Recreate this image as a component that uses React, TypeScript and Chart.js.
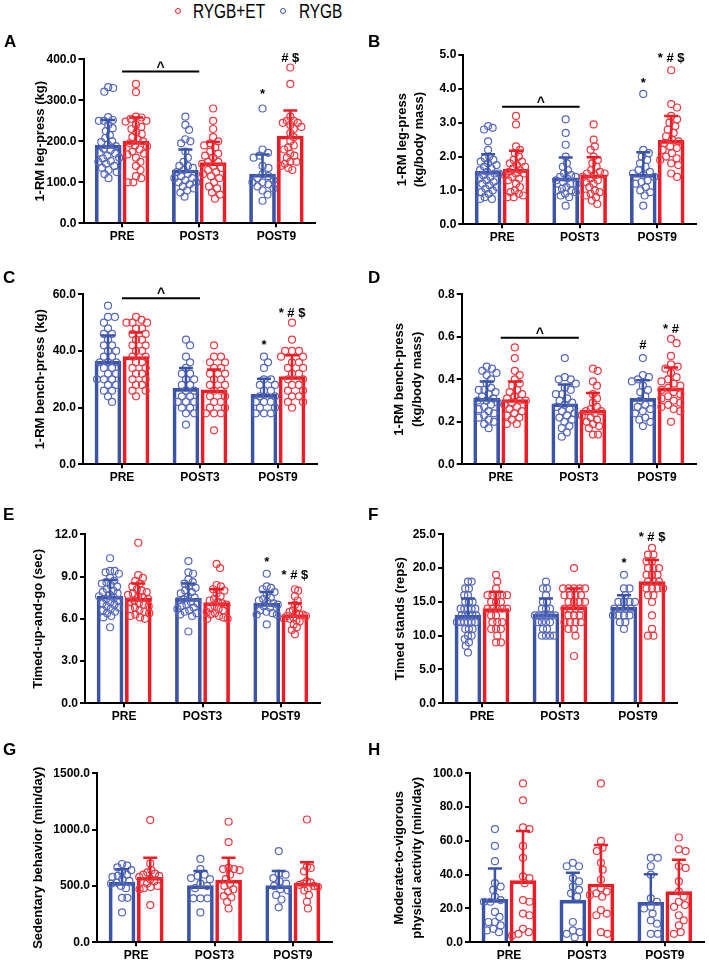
import React, { useEffect, useRef } from 'react';
import { Chart, registerables } from 'chart.js';

Chart.register(...registerables);

const FONT = "'Liberation Sans', Arial, Helvetica, sans-serif";
const BLUE = '#3B54A6';
const RED = '#EE1C25';
const BLUE_PT = '#5668BC';
const RED_PT = '#F03840';

const CATEGORIES = ['PRE', 'POST3', 'POST9'];
const SERIES_NAMES = ['RYGB', 'RYGB+ET'];

// ---------- Panel A ----------
const A_TITLE = '1-RM leg-press (kg)';
const A_Y_TICKS = [0, 100, 200, 300, 400];
const A_RYGB_MEAN = [190, 130, 120];
const A_RYGB_SD = [62, 50, 48];
const A_ET_MEAN = [200, 148, 213];
const A_ET_SD = [58, 50, 62];
const A_RYGB_PTS = [
  [332, 330, 321, 259, 252, 250, 250, 240, 232, 225, 215, 208, 200, 198, 192, 188, 182, 178, 172, 170, 165, 160, 158, 152, 150, 145, 140, 135, 130, 125, 120, 110],
  [260, 240, 228, 205, 200, 195, 175, 160, 150, 140, 140, 135, 130, 125, 120, 115, 110, 110, 105, 100, 100, 95, 90, 85, 80, 75, 65],
  [280, 180, 172, 165, 160, 140, 135, 120, 115, 110, 105, 100, 100, 95, 90, 85, 80, 70, 55],
];
const A_ET_PTS = [
  [340, 320, 260, 258, 255, 250, 248, 240, 235, 230, 222, 218, 210, 205, 200, 195, 190, 188, 180, 175, 170, 168, 160, 150, 140, 130, 115, 110, 100, 100],
  [280, 250, 230, 210, 200, 195, 190, 185, 175, 170, 165, 160, 150, 150, 145, 140, 135, 130, 125, 120, 115, 110, 100, 90, 85, 75, 70, 60],
  [380, 340, 260, 250, 250, 245, 245, 240, 235, 230, 220, 210, 200, 190, 185, 180, 170, 165, 160, 150, 150, 145, 140, 135, 130],
];
const A_MARKS = [
  { cat: 2, series: 0, value: 315, text: '*' },
  { cat: 2, series: 1, value: 402, text: '# $' },
];
const A_BRACKET = { from: 0, to: 1, value: 370 };

// ---------- Panel B ----------
const B_TITLE = ['1-RM leg-press', '(kg/body mass)'];
const B_Y_TICKS = [0, 1, 2, 3, 4, 5];
const B_RYGB_MEAN = [1.57, 1.37, 1.48];
const B_RYGB_SD = [0.5, 0.6, 0.65];
const B_ET_MEAN = [1.62, 1.46, 2.48];
const B_ET_SD = [0.55, 0.52, 0.72];
const B_RYGB_PTS = [
  [2.9, 2.85, 2.8, 2.45, 2.2, 2.0, 1.95, 1.9, 1.85, 1.8, 1.75, 1.7, 1.65, 1.6, 1.55, 1.5, 1.5, 1.45, 1.4, 1.35, 1.3, 1.25, 1.2, 1.15, 1.1, 1.05, 1.0, 0.95, 0.9, 0.8, 0.75, 0.75],
  [3.1, 2.7, 2.35, 2.0, 1.8, 1.7, 1.6, 1.5, 1.45, 1.4, 1.4, 1.35, 1.3, 1.25, 1.2, 1.2, 1.1, 1.05, 1.0, 1.0, 0.95, 0.9, 0.85, 0.8, 0.55],
  [3.85, 2.2, 2.1, 2.0, 1.9, 1.8, 1.7, 1.6, 1.55, 1.5, 1.45, 1.4, 1.3, 1.25, 1.2, 1.1, 1.0, 0.95, 0.85, 0.55],
];
const B_ET_PTS = [
  [3.2, 2.95, 2.3, 2.2, 2.1, 2.0, 1.9, 1.85, 1.8, 1.75, 1.7, 1.65, 1.6, 1.55, 1.5, 1.5, 1.45, 1.4, 1.35, 1.3, 1.2, 1.1, 1.0, 0.95, 0.9, 0.85, 0.8, 0.8],
  [2.95, 2.5, 2.3, 2.2, 2.0, 1.9, 1.8, 1.7, 1.6, 1.55, 1.5, 1.5, 1.45, 1.4, 1.35, 1.3, 1.25, 1.2, 1.1, 1.0, 0.95, 0.9, 0.85, 0.8, 0.7, 0.6],
  [4.55, 3.55, 3.45, 3.2, 3.1, 3.0, 2.9, 2.8, 2.7, 2.6, 2.5, 2.45, 2.4, 2.3, 2.25, 2.2, 2.1, 2.0, 1.95, 1.9, 1.8, 1.75, 1.5, 1.4],
];
const B_MARKS = [
  { cat: 2, series: 0, value: 4.16, text: '*' },
  { cat: 2, series: 1, value: 4.9, text: '* # $' },
];
const B_BRACKET = { from: 0, to: 1, value: 3.47 };

// ---------- Panel C ----------
const C_TITLE = '1-RM bench-press (kg)';
const C_Y_TICKS = [0, 20, 40, 60];
const C_RYGB_MEAN = [36.3, 26.8, 24.7];
const C_RYGB_SD = [9.2, 7.2, 5.5];
const C_ET_MEAN = [38.0, 26.3, 31.0];
const C_ET_SD = [8.5, 7.2, 7.5];
const C_RYGB_PTS = [
  [56, 52, 52, 50, 48, 46, 46, 44, 42, 42, 40, 40, 38, 38, 36, 36, 36, 34, 34, 32, 32, 30, 30, 30, 28, 28, 26, 26, 24, 22],
  [44, 42, 38, 36, 34, 32, 32, 30, 30, 28, 28, 26, 26, 24, 24, 22, 22, 22, 20, 20, 18, 18, 14],
  [38, 36, 34, 30, 30, 28, 28, 26, 26, 24, 24, 22, 22, 22, 20, 20, 18, 18, 18],
];
const C_ET_PTS = [
  [52, 51, 50, 50, 50, 48, 48, 46, 46, 44, 44, 42, 42, 40, 40, 38, 38, 36, 36, 34, 34, 32, 32, 30, 30, 28, 28, 26, 26, 24],
  [42, 38, 38, 36, 36, 34, 34, 32, 32, 30, 30, 28, 28, 26, 26, 24, 24, 22, 22, 20, 20, 18, 18, 18, 12],
  [50, 44, 40, 40, 40, 38, 38, 36, 36, 34, 34, 32, 32, 30, 30, 28, 28, 26, 26, 24, 24, 22, 22, 20],
];
const C_MARKS = [
  { cat: 2, series: 0, value: 41.9, text: '*' },
  { cat: 2, series: 1, value: 53.3, text: '* # $' },
];
const C_BRACKET = { from: 0, to: 1, value: 58.6 };

// ---------- Panel D ----------
const D_TITLE = ['1-RM bench-press', '(kg/body mass)'];
const D_Y_TICKS = [0, 0.2, 0.4, 0.6, 0.8];
const D_RYGB_MEAN = [0.31, 0.285, 0.31];
const D_RYGB_SD = [0.08, 0.09, 0.085];
const D_ET_MEAN = [0.305, 0.255, 0.36];
const D_ET_SD = [0.085, 0.08, 0.095];
const D_RYGB_PTS = [
  [0.46, 0.45, 0.44, 0.43, 0.42, 0.4, 0.38, 0.36, 0.35, 0.35, 0.34, 0.33, 0.32, 0.31, 0.3, 0.3, 0.29, 0.28, 0.27, 0.26, 0.25, 0.24, 0.23, 0.22, 0.21, 0.2, 0.19, 0.17],
  [0.5, 0.41, 0.4, 0.4, 0.38, 0.36, 0.35, 0.33, 0.33, 0.31, 0.3, 0.29, 0.28, 0.27, 0.26, 0.25, 0.24, 0.23, 0.22, 0.21, 0.2, 0.18, 0.17, 0.15, 0.13],
  [0.5, 0.42, 0.41, 0.4, 0.39, 0.37, 0.35, 0.34, 0.32, 0.3, 0.28, 0.27, 0.26, 0.25, 0.24, 0.22, 0.21, 0.2, 0.18],
];
const D_ET_PTS = [
  [0.55, 0.5, 0.44, 0.42, 0.4, 0.38, 0.37, 0.35, 0.34, 0.33, 0.32, 0.31, 0.3, 0.3, 0.29, 0.28, 0.27, 0.26, 0.25, 0.24, 0.23, 0.22, 0.21, 0.19, 0.19],
  [0.45, 0.44, 0.39, 0.37, 0.33, 0.31, 0.29, 0.27, 0.26, 0.25, 0.25, 0.24, 0.23, 0.22, 0.21, 0.2, 0.19, 0.18, 0.17, 0.14, 0.14],
  [0.59, 0.57, 0.51, 0.47, 0.46, 0.45, 0.43, 0.41, 0.4, 0.39, 0.38, 0.37, 0.36, 0.35, 0.34, 0.33, 0.32, 0.31, 0.3, 0.29, 0.28, 0.27, 0.26, 0.25, 0.2],
];
const D_MARKS = [
  { cat: 2, series: 0, value: 0.56, text: '#' },
  { cat: 2, series: 1, value: 0.637, text: '* #' },
];
const D_BRACKET = { from: 0, to: 1, value: 0.596 };

// ---------- Panel E ----------
const E_TITLE = 'Timed-up-and-go (sec)';
const E_Y_TICKS = [0, 3, 6, 9, 12];
const E_RYGB_MEAN = [7.6, 7.45, 7.1];
const E_RYGB_SD = [1.15, 1.05, 0.8];
const E_ET_MEAN = [7.45, 7.15, 6.3];
const E_ET_SD = [1.05, 0.95, 0.8];
const E_RYGB_PTS = [
  [10.3, 9.4, 9.4, 9.3, 9.2, 8.9, 8.7, 8.6, 8.5, 8.4, 8.3, 8.1, 8.0, 7.9, 7.8, 7.7, 7.6, 7.5, 7.4, 7.3, 7.2, 7.1, 7.0, 6.9, 6.8, 6.7, 6.6, 6.5, 6.4, 6.2, 6.1, 5.4],
  [10.1, 9.3, 9.2, 8.8, 8.6, 8.5, 8.3, 8.2, 8.0, 7.9, 7.8, 7.6, 7.5, 7.4, 7.3, 7.2, 7.1, 7.0, 6.9, 6.8, 6.7, 6.6, 6.5, 6.4, 6.3, 6.2, 5.1],
  [9.2, 8.3, 8.2, 8.1, 7.9, 7.7, 7.5, 7.4, 7.3, 7.2, 7.1, 7.0, 6.9, 6.8, 6.6, 6.5, 6.4, 6.3, 6.3, 5.6],
];
const E_ET_PTS = [
  [11.4, 9.1, 8.9, 8.7, 8.5, 8.3, 8.1, 8.0, 7.9, 7.8, 7.7, 7.6, 7.5, 7.4, 7.3, 7.2, 7.1, 7.0, 6.9, 6.8, 6.7, 6.6, 6.5, 6.4, 6.3, 6.2, 6.1, 6.0],
  [9.9, 9.6, 8.4, 8.3, 8.1, 8.0, 7.8, 7.6, 7.4, 7.3, 7.2, 7.1, 7.0, 6.9, 6.8, 6.7, 6.6, 6.5, 6.4, 6.3, 6.2, 6.1, 6.0, 6.0],
  [8.1, 8.0, 7.6, 7.3, 7.0, 6.8, 6.6, 6.5, 6.4, 6.3, 6.3, 6.2, 6.2, 6.1, 6.0, 6.0, 5.9, 5.8, 5.6, 5.4, 5.2, 4.9],
];
const E_MARKS = [
  { cat: 2, series: 0, value: 10.0, text: '*' },
  { cat: 2, series: 1, value: 9.07, text: '* # $' },
];

// ---------- Panel F ----------
const F_TITLE = 'Timed stands (reps)';
const F_Y_TICKS = [0, 5, 10, 15, 20, 25];
const F_RYGB_MEAN = [13.0, 13.2, 14.2];
const F_RYGB_SD = [2.5, 2.3, 1.8];
const F_ET_MEAN = [14.0, 14.3, 18.0];
const F_ET_SD = [2.5, 2.7, 3.2];
const F_RYGB_PTS = [
  [18, 18, 17, 17, 16, 16, 15, 15, 15, 14, 14, 14, 14, 14, 13, 13, 13, 13, 13, 12, 12, 12, 12, 12, 12, 11, 11, 11, 10, 10, 9.5, 9, 8.5, 7.5],
  [18, 17, 17, 16, 15, 15, 14, 14, 14, 13, 13, 13, 13, 13, 13, 12, 12, 12, 12, 11, 11, 10, 10, 10, 10],
  [19, 17, 17, 16, 15, 15, 15, 15, 14, 14, 14, 14, 13, 13, 13, 13, 12, 12, 11],
];
const F_ET_PTS = [
  [19, 18, 17, 16, 16, 16, 16, 16, 15, 15, 15, 14, 14, 14, 14, 14, 13, 13, 12, 12, 12, 11, 11, 11, 10, 9, 9],
  [20, 17, 17, 17, 17, 17, 16, 16, 16, 16, 15, 15, 15, 15, 14, 14, 14, 14, 13, 13, 13, 12, 12, 12, 12, 11, 11, 10, 7],
  [23, 22, 22, 21, 21, 20, 20, 20, 19, 19, 19, 18, 18, 18, 17, 17, 17, 17, 16, 16, 15, 13, 11, 10, 10],
];
const F_MARKS = [
  { cat: 2, series: 0, value: 20.7, text: '*' },
  { cat: 2, series: 1, value: 24.5, text: '* # $' },
];

// ---------- Panel G ----------
const G_TITLE = 'Sedentary behavior (min/day)';
const G_Y_TICKS = [0, 500, 1000, 1500];
const G_RYGB_MEAN = [532, 503, 503];
const G_RYGB_SD = [116, 130, 130];
const G_ET_MEAN = [577, 552, 524];
const G_ET_SD = [174, 199, 186];
const G_RYGB_PTS = [
  [695, 680, 665, 640, 625, 600, 590, 580, 560, 545, 530, 520, 500, 480, 395, 395, 265],
  [740, 650, 600, 590, 570, 560, 520, 500, 480, 390, 390, 390, 265],
  [810, 610, 600, 570, 540, 520, 500, 470, 460, 420, 380, 310],
];
const G_ET_PTS = [
  [1085, 700, 640, 620, 610, 600, 590, 580, 560, 540, 520, 500, 490, 480, 470, 330],
  [1070, 890, 660, 650, 650, 640, 600, 560, 520, 500, 470, 450, 410, 400, 360, 300],
  [1090, 670, 660, 630, 540, 530, 520, 510, 500, 490, 480, 460, 420, 360, 300],
];

// ---------- Panel H ----------
const H_TITLE = ['Moderate-to-vigorous', 'physical activity (min/day)'];
const H_Y_TICKS = [0, 20, 40, 60, 80, 100];
const H_RYGB_MEAN = [25.4, 25.0, 23.7];
const H_RYGB_SD = [18.2, 16.2, 16.5];
const H_ET_MEAN = [36.5, 34.5, 30.0];
const H_ET_SD = [29.4, 23.1, 18.9];
const H_RYGB_PTS = [
  [67, 57, 48, 35, 33, 31, 27, 25, 24, 24, 18, 15, 12, 12, 10, 8, 7, 6],
  [47, 45, 45, 38, 36, 33, 31, 29, 27, 12, 7, 6, 5, 3],
  [50, 50, 45, 40, 26, 24, 21, 20, 17, 13, 11, 5, 5],
];
const H_ET_PTS = [
  [94, 84, 68, 67, 57, 50, 39, 38, 35, 25, 24, 17, 16, 8, 6, 5, 4],
  [94, 60, 56, 54, 47, 43, 37, 32, 30, 29, 28, 27, 19, 17, 16, 6, 5],
  [62, 55, 54, 45, 44, 36, 30, 27, 24, 22, 21, 16, 13, 10, 6, 5],
];

// ---------- table of panels (built from the arrays above) ----------
const PANELS = [
  { letter: 'A', title: A_TITLE, ticks: A_Y_TICKS, mean: [A_RYGB_MEAN, A_ET_MEAN], sd: [A_RYGB_SD, A_ET_SD], pts: [A_RYGB_PTS, A_ET_PTS], marks: A_MARKS, bracket: A_BRACKET },
  { letter: 'B', title: B_TITLE, ticks: B_Y_TICKS, mean: [B_RYGB_MEAN, B_ET_MEAN], sd: [B_RYGB_SD, B_ET_SD], pts: [B_RYGB_PTS, B_ET_PTS], marks: B_MARKS, bracket: B_BRACKET },
  { letter: 'C', title: C_TITLE, ticks: C_Y_TICKS, mean: [C_RYGB_MEAN, C_ET_MEAN], sd: [C_RYGB_SD, C_ET_SD], pts: [C_RYGB_PTS, C_ET_PTS], marks: C_MARKS, bracket: C_BRACKET },
  { letter: 'D', title: D_TITLE, ticks: D_Y_TICKS, mean: [D_RYGB_MEAN, D_ET_MEAN], sd: [D_RYGB_SD, D_ET_SD], pts: [D_RYGB_PTS, D_ET_PTS], marks: D_MARKS, bracket: D_BRACKET },
  { letter: 'E', title: E_TITLE, ticks: E_Y_TICKS, mean: [E_RYGB_MEAN, E_ET_MEAN], sd: [E_RYGB_SD, E_ET_SD], pts: [E_RYGB_PTS, E_ET_PTS], marks: E_MARKS, bracket: null },
  { letter: 'F', title: F_TITLE, ticks: F_Y_TICKS, mean: [F_RYGB_MEAN, F_ET_MEAN], sd: [F_RYGB_SD, F_ET_SD], pts: [F_RYGB_PTS, F_ET_PTS], marks: F_MARKS, bracket: null },
  { letter: 'G', title: G_TITLE, ticks: G_Y_TICKS, mean: [G_RYGB_MEAN, G_ET_MEAN], sd: [G_RYGB_SD, G_ET_SD], pts: [G_RYGB_PTS, G_ET_PTS], marks: [], bracket: null },
  { letter: 'H', title: H_TITLE, ticks: H_Y_TICKS, mean: [H_RYGB_MEAN, H_ET_MEAN], sd: [H_RYGB_SD, H_ET_SD], pts: [H_RYGB_PTS, H_ET_PTS], marks: [], bracket: null },
];

// layout of each panel on the page (pixels)
const LAYOUT: Record<string, any> = {
  A: { cx: 0, cy: 40, cw: 350, ch: 215, axisX: 83.5, top: 59.3, bottom: 223.3, right: 315, titlePad: 32.7, lx: 4, ly: 32.6 },
  B: { cx: 355, cy: 40, cw: 354, ch: 215, axisX: 463.3, top: 55, bottom: 224.3, right: 696, titlePad: 38.2, lx: 368, ly: 32.6 },
  C: { cx: 0, cy: 262, cw: 350, ch: 228, axisX: 83, top: 294.3, bottom: 464.3, right: 317, titlePad: 32.5, lx: 3, ly: 268.6 },
  D: { cx: 355, cy: 262, cw: 354, ch: 228, axisX: 461.7, top: 294.3, bottom: 464.3, right: 696, titlePad: 36, lx: 368, ly: 268.6 },
  E: { cx: 0, cy: 500, cw: 350, ch: 225, axisX: 85, top: 534.3, bottom: 703.3, right: 320, titlePad: 31, lx: 3, ly: 505.6 },
  F: { cx: 355, cy: 500, cw: 354, ch: 225, axisX: 443, top: 534.3, bottom: 703.3, right: 677, titlePad: 37.5, lx: 368, ly: 505.6 },
  G: { cx: 0, cy: 735, cw: 350, ch: 227, axisX: 97, top: 773.3, bottom: 942.3, right: 332, titlePad: 31, lx: 3, ly: 740.6 },
  H: { cx: 355, cy: 735, cw: 354, ch: 227, axisX: 470, top: 773.3, bottom: 942.3, right: 707, titlePad: 36, lx: 368, ly: 740.6 },
};

// bar placement inside a category (category units) and bar thickness (px)
const BAR_OFFSET = 0.18;
const BAR_THICKNESS = 26;
const SWARM_D = 7;

function swarm(ys: number[], d: number): number[] {
  const order = ys.map((_, i) => i).sort((a, b) => ys[a] - ys[b]);
  const placed: { x: number; y: number }[] = [];
  const out = new Array(ys.length).fill(0);
  for (const i of order) {
    const y = ys[i];
    const near = placed.filter((p) => Math.abs(p.y - y) < d);
    const cands = [0];
    for (const p of near) {
      const dx = Math.sqrt(Math.max(0, d * d - (p.y - y) * (p.y - y)));
      cands.push(p.x + dx, p.x - dx);
    }
    cands.sort((a, b) => Math.abs(a) - Math.abs(b));
    let chosen = 0;
    for (const c of cands) {
      if (near.every((p) => (p.x - c) * (p.x - c) + (p.y - y) * (p.y - y) >= d * d - 0.01)) {
        chosen = c;
        break;
      }
    }
    placed.push({ x: chosen, y });
    out[i] = chosen;
  }
  return out;
}

function placePoints(chart: any, def: any) {
  const y = chart.scales.y;
  const xs = chart.scales.xs;
  def.pts.forEach((groups: number[][], s: number) => {
    const meta = chart.getDatasetMeta(s);
    const data: any[] = [];
    groups.forEach((vals, c) => {
      const el = meta.data[c];
      const cx = el.x;
      const bw = el.width;
      const py = vals.map((v) => y.getPixelForValue(v));
      const off = swarm(py, SWARM_D);
      const maxAbs = Math.max(0.001, ...off.map((o) => Math.abs(o)));
      const lim = bw / 2 - 2;
      const f = maxAbs > lim ? lim / maxAbs : 1;
      vals.forEach((v, i) => data.push({ x: xs.getValueForPixel(cx + off[i] * f), y: v }));
    });
    chart.data.datasets[2 + s].data = data;
  });
  chart.update('none');
}

function makePlugins(def: any) {
  const colors = [BLUE, RED];
  const errorBars = {
    id: 'errorBars',
    afterDatasetsDraw(chart: any) {
      const ctx = chart.ctx;
      const y = chart.scales.y;
      ctx.save();
      for (let s = 0; s < 2; s++) {
        const meta = chart.getDatasetMeta(s);
        meta.data.forEach((el: any, c: number) => {
          const top = y.getPixelForValue(def.mean[s][c] + def.sd[s][c]);
          ctx.strokeStyle = colors[s];
          ctx.lineWidth = 2.5;
          ctx.beginPath();
          ctx.moveTo(el.x, el.y);
          ctx.lineTo(el.x, top);
          ctx.moveTo(el.x - 7, top);
          ctx.lineTo(el.x + 7, top);
          ctx.stroke();
        });
      }
      ctx.restore();
    },
  };
  const annotations = {
    id: 'sigMarks',
    afterDatasetsDraw(chart: any) {
      const ctx = chart.ctx;
      const y = chart.scales.y;
      const x = chart.scales.x;
      ctx.save();
      ctx.fillStyle = '#000';
      ctx.strokeStyle = '#000';
      if (def.bracket) {
        const x1 = x.getPixelForValue(def.bracket.from);
        const x2 = x.getPixelForValue(def.bracket.to);
        const yy = y.getPixelForValue(def.bracket.value);
        ctx.lineWidth = 2;
        ctx.beginPath();
        ctx.moveTo(x1, yy);
        ctx.lineTo(x2, yy);
        ctx.stroke();
        ctx.font = `bold 14px ${FONT}`;
        ctx.textAlign = 'center';
        ctx.textBaseline = 'alphabetic';
        ctx.fillText('^', (x1 + x2) / 2, yy);
      }
      ctx.font = `bold 13px ${FONT}`;
      ctx.textAlign = 'center';
      ctx.textBaseline = 'middle';
      for (const m of def.marks) {
        const el = chart.getDatasetMeta(m.series).data[m.cat];
        ctx.fillText(m.text, el.x, y.getPixelForValue(m.value));
      }
      ctx.restore();
    },
  };
  return [errorBars, annotations];
}

function Panel({ def }: { def: any }) {
  const ref = useRef<HTMLCanvasElement | null>(null);
  const box = LAYOUT[def.letter];
  useEffect(() => {
    const canvas = ref.current;
    if (!canvas) return;
    const ticks = def.ticks;
    const yMax = ticks[ticks.length - 1];
    const yStep = ticks[1] - ticks[0];
    const multi = Array.isArray(def.title);
    const initPts = (groups: number[][]) => {
      const arr: any[] = [];
      groups.forEach((vals, c) => vals.forEach((v) => arr.push({ x: c, y: v })));
      return arr;
    };
    const barData = (means: number[], s: number) =>
      means.map((m, c) => ({ x: c + (s === 0 ? -BAR_OFFSET : BAR_OFFSET), y: m }));
    const barCommon = {
      type: 'bar',
      xAxisID: 'xs',
      yAxisID: 'y',
      backgroundColor: 'rgba(0,0,0,0)',
      borderWidth: 3,
      barThickness: BAR_THICKNESS,
      grouped: false,
      order: 2,
    };
    const ptCommon = {
      type: 'scatter',
      xAxisID: 'xs',
      yAxisID: 'y',
      grouped: false,
      pointRadius: 3.5,
      pointBorderWidth: 1.2,
      pointBackgroundColor: 'rgba(0,0,0,0)',
      showLine: false,
      clip: false,
      order: 1,
    };
    const chart = new Chart(canvas, {
      type: 'bar',
      data: {
        labels: CATEGORIES,
        datasets: [
          { ...barCommon, label: SERIES_NAMES[0], data: barData(def.mean[0], 0), borderColor: BLUE },
          { ...barCommon, label: SERIES_NAMES[1], data: barData(def.mean[1], 1), borderColor: RED },
          { ...ptCommon, label: SERIES_NAMES[0] + ' points', data: initPts(def.pts[0]), pointBorderColor: BLUE_PT, borderColor: BLUE_PT },
          { ...ptCommon, label: SERIES_NAMES[1] + ' points', data: initPts(def.pts[1]), pointBorderColor: RED_PT, borderColor: RED_PT },
        ] as any,
      },
      options: {
        responsive: false,
        animation: false,
        devicePixelRatio: 1,
        layout: {
          padding: {
            left: 0,
            top: box.top - box.cy,
            right: box.cx + box.cw - box.right,
            bottom: 0,
          },
        },
        plugins: {
          legend: { display: false },
          tooltip: { enabled: false },
        },
        scales: {
          x: {
            type: 'category',
            labels: CATEGORIES,
            offset: true,
            ticks: {
              color: '#000',
              font: { family: FONT, size: 12, weight: 'bold' },
              padding: 2,
              maxRotation: 0,
              minRotation: 0,
              autoSkip: false,
            },
            grid: {
              display: true,
              offset: false,
              drawOnChartArea: false,
              drawTicks: true,
              tickLength: 4,
              color: '#000',
              lineWidth: 2,
            },
            border: { display: true, color: '#000', width: 2 },
            afterFit: (s: any) => {
              s.height = box.cy + box.ch - box.bottom;
            },
          },
          xs: {
            type: 'linear',
            display: false,
            offset: false,
            grace: 0,
            bounds: 'data',
            min: -0.5,
            max: 2.5,
            grid: { offset: false },
          },
          y: {
            type: 'linear',
            min: 0,
            max: yMax,
            ticks: {
              stepSize: yStep,
              color: '#000',
              font: { family: FONT, size: 12, weight: 'bold' },
              padding: 2,
              callback: (v: any) => Number(v).toFixed(1),
            },
            grid: {
              display: true,
              drawOnChartArea: false,
              drawTicks: true,
              tickLength: 5,
              color: '#000',
              lineWidth: 2,
            },
            border: { display: true, color: '#000', width: 2 },
            title: {
              display: true,
              text: def.title,
              color: '#000',
              font: { family: FONT, size: 13, weight: 'bold', lineHeight: multi ? 1.35 : 1.2 },
              padding: { top: box.titlePad, bottom: 0 },
            },
            afterFit: (s: any) => {
              s.width = box.axisX - box.cx;
            },
          },
        },
      } as any,
      plugins: makePlugins(def) as any,
    } as any);
    placePoints(chart, def);
    return () => chart.destroy();
  }, []);
  return (
    <>
      <canvas
        ref={ref}
        width={box.cw}
        height={box.ch}
        style={{ position: 'absolute', left: box.cx, top: box.cy, width: box.cw, height: box.ch }}
      />
      <div
        style={{
          position: 'absolute',
          left: box.lx,
          top: box.ly,
          fontFamily: FONT,
          fontWeight: 'bold',
          fontSize: 17,
          lineHeight: '17px',
          color: '#000',
        }}
      >
        {def.letter}
      </div>
    </>
  );
}

function Legend() {
  const circle = (left: number, color: string) => (
    <div
      style={{
        position: 'absolute',
        left,
        top: 8,
        width: 6,
        height: 6,
        boxSizing: 'border-box',
        border: `1.3px solid ${color}`,
        borderRadius: '50%',
      }}
    />
  );
  const label = (left: number, text: string) => (
    <div
      style={{
        position: 'absolute',
        left,
        top: 1.4,
        fontFamily: FONT,
        fontSize: 20,
        lineHeight: '20px',
        color: '#000',
        whiteSpace: 'nowrap',
        transform: 'scaleX(0.77)',
        transformOrigin: 'left top',
      }}
    >
      {text}
    </div>
  );
  return (
    <>
      {circle(174.5, RED)}
      {label(193, SERIES_NAMES[1])}
      {circle(279.5, BLUE)}
      {label(299, SERIES_NAMES[0])}
    </>
  );
}

export default function App() {
  return (
    <div
      style={{
        position: 'absolute',
        left: 0,
        top: 0,
        width: 709,
        height: 962,
        background: '#fff',
        overflow: 'hidden',
      }}
    >
      <Legend />
      {PANELS.map((p) => (
        <Panel key={p.letter} def={p} />
      ))}
    </div>
  );
}
